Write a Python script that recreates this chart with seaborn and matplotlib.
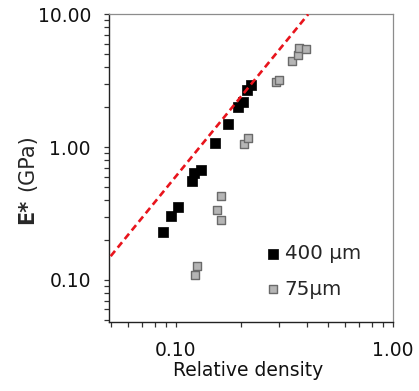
import matplotlib
matplotlib.use("Agg")
import matplotlib.pyplot as plt
import pandas as pd
import seaborn as sns
from matplotlib.ticker import FixedLocator, FuncFormatter, LogLocator, NullFormatter

# relative density / modulus, 400 um struts
rho_400 = [0.0874, 0.0945, 0.1025, 0.119, 0.121, 0.130, 0.151, 0.173,
           0.194, 0.204, 0.212, 0.222]
E_400 = [0.228, 0.304, 0.357, 0.560, 0.635, 0.672, 1.08, 1.50,
         2.01, 2.19, 2.71, 2.95]

# 75 um struts
rho_75 = [0.122, 0.125, 0.155, 0.161, 0.162, 0.206, 0.215, 0.288,
          0.298, 0.342, 0.364, 0.369, 0.397]
E_75 = [0.109, 0.128, 0.337, 0.432, 0.282, 1.06, 1.17, 3.09,
        3.20, 4.49, 4.95, 5.56, 5.50]

# ideal stretch/bend line end points
fit_rho = [0.05, 0.407]
fit_E = [0.151, 10.0]

labels = ["400 µm", "75µm"]
x_ticks = [0.1, 1.0]
y_ticks = [0.1, 1.0, 10.0]

sns.set_style("ticks")
plt.rcParams["font.family"] = ["DejaVu Sans"]

df_400 = pd.DataFrame({"rho": rho_400, "E": E_400})
df_75 = pd.DataFrame({"rho": rho_75, "E": E_75})
df_fit = pd.DataFrame({"rho": fit_rho, "E": fit_E})

fig, ax = plt.subplots(figsize=(4.19, 3.91), dpi=100)
fig.subplots_adjust(left=0.261, right=0.9375, bottom=0.1757, top=0.9634)

sns.scatterplot(data=df_75, x="rho", y="E", ax=ax, marker="s", s=34,
                color="#b5b5b5", edgecolor="#6a6a6a", linewidth=1.0,
                label=labels[1], zorder=2)
sns.scatterplot(data=df_400, x="rho", y="E", ax=ax, marker="s", s=48,
                color="black", edgecolor="black", linewidth=0.5,
                label=labels[0], zorder=3)
sns.lineplot(data=df_fit, x="rho", y="E", ax=ax, color="#e8141c",
             linewidth=1.9, dashes=False, zorder=4, legend=False)
ax.lines[-1].set_dashes((2.6, 1.6))

ax.set_xscale("log")
ax.set_yscale("log")
ax.set_xlim(0.0493, 1.0)
ax.set_ylim(0.048, 10.0)

fmt = FuncFormatter(lambda v, p: f"{v:.2f}")
ax.xaxis.set_major_locator(FixedLocator(x_ticks))
ax.yaxis.set_major_locator(FixedLocator(y_ticks))
ax.xaxis.set_major_formatter(fmt)
ax.yaxis.set_major_formatter(fmt)
ax.xaxis.set_minor_locator(LogLocator(base=10, subs=range(2, 10)))
ax.yaxis.set_minor_locator(LogLocator(base=10, subs=range(2, 10)))
ax.xaxis.set_minor_formatter(NullFormatter())
ax.yaxis.set_minor_formatter(NullFormatter())

ax.tick_params(which="both", direction="out", length=3.8, width=0.9,
               color="#333333", labelsize=13.5, labelcolor="#111111")
ax.tick_params(axis="x", which="both", pad=9.5)
ax.tick_params(axis="y", which="both", pad=9.5)

for side in ["left", "bottom"]:
    ax.spines[side].set_color("#222222")
    ax.spines[side].set_linewidth(1.0)
for side in ["top", "right"]:
    ax.spines[side].set_color("#8c8c8c")
    ax.spines[side].set_linewidth(0.9)

ax.set_xlabel("Relative density", fontsize=13.5, color="#111111")
ax.xaxis.set_label_coords(0.49, -0.126)
ax.set_ylabel("")
ax.text(-0.29, 0.319, "E*", transform=ax.transAxes, rotation=90,
        ha="center", va="bottom", fontsize=15, fontweight="bold")
ax.text(-0.29, 0.425, "(GPa)", transform=ax.transAxes, rotation=90,
        ha="center", va="bottom", fontsize=15)

handles, texts = ax.get_legend_handles_labels()
order = [texts.index(l) for l in labels]
ax.legend([handles[i] for i in order], [texts[i] for i in order],
          loc="center left", bbox_to_anchor=(0.548, 0.166), frameon=False,
          fontsize=14.3, handlelength=0.8, handletextpad=0.2,
          labelspacing=0.84, borderpad=0, borderaxespad=0, scatterpoints=1)

fig.savefig("out.png", dpi=100)
